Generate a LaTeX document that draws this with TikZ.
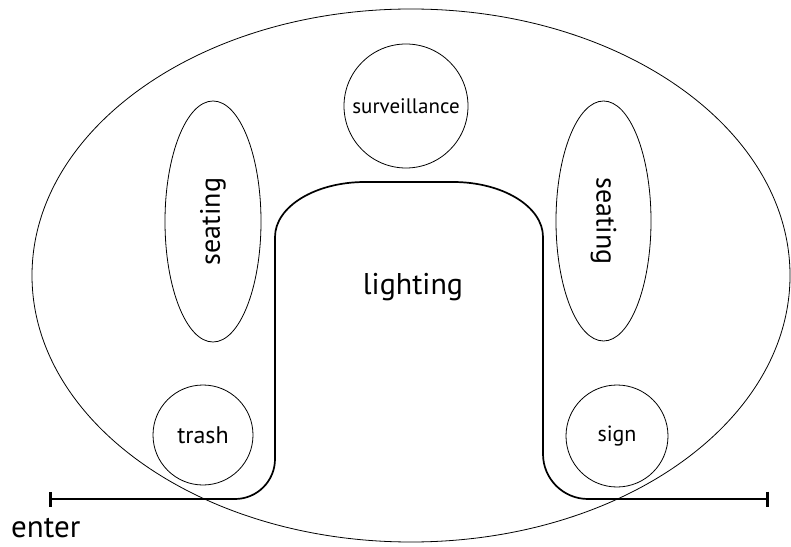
\documentclass[tikz,border=0pt]{standalone}
\usepackage{fontspec}
\setmainfont{PT Sans}
\usetikzlibrary{arrows.meta,shapes.geometric}

\begin{document}
\begin{tikzpicture}[
    x=1pt, y=1pt,
    zone/.style={draw, line width=0.8pt},
    spot/.style={zone, circle, inner sep=0pt},
    bench/.style={zone, ellipse, inner sep=0pt},
    walk/.style={line width=1.7pt, {Bar[width=15pt,line width=3pt 0]}-{Bar[width=15pt,line width=3pt 0]}}
]
\useasboundingbox (0,0) rectangle (791,546);

% outer plaza
\node[zone, ellipse, minimum width=758pt, minimum height=533pt] (plaza) at (411,270.5) {};

% furniture
\node[spot, minimum size=124pt, font=\fontsize{21}{23}\selectfont] (cam) at (406,440) {surveillance};
\node[spot, minimum size=100pt, font=\fontsize{24}{26}\selectfont] (bin) at (203,111) {trash};
\node[spot, minimum size=102pt, font=\fontsize{22}{24}\selectfont] (sign) at (617,110) {sign};

\node[bench, minimum width=96pt, minimum height=241pt] (seatL) at (213,324.5)
    {\rotatebox{90}{\fontsize{28}{30}\selectfont seating}};
\node[bench, minimum width=95pt, minimum height=240pt] (seatR) at (603.5,325)
    {\rotatebox{-90}{\fontsize{28}{30}\selectfont seating}};

% path through the lit area
\coordinate (in) at (49,47);
\coordinate (out) at (769,47);
\draw[walk] (in) -- (235,47)
    arc[start angle=270, end angle=360, radius=40pt] -- (275,309)
    arc[start angle=180, end angle=90, x radius=90pt, y radius=55pt] -- (453,364)
    arc[start angle=90, end angle=0, x radius=90pt, y radius=55pt] -- (543,92)
    arc[start angle=180, end angle=270, radius=45pt] -- (out);

\node[anchor=base, font=\fontsize{30}{32}\selectfont] (light) at (413,251) {lighting};
\node[anchor=base west, inner sep=0pt, font=\fontsize{31}{33}\selectfont] (enter) at (11,9) {enter};

\end{tikzpicture}
\end{document}
